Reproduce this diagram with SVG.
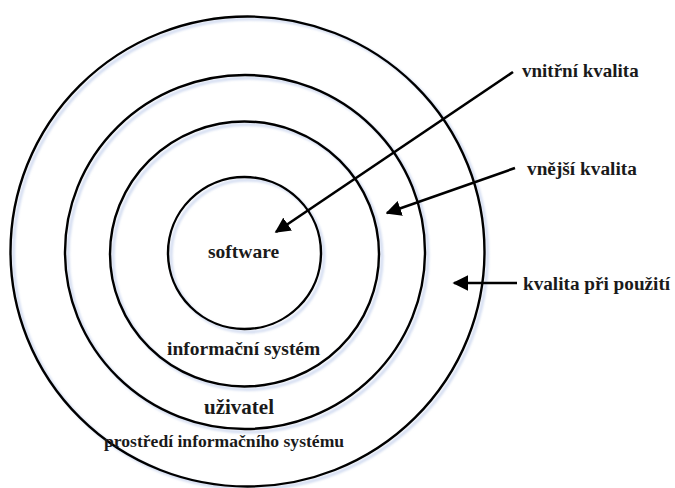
<svg xmlns="http://www.w3.org/2000/svg" width="675" height="488" viewBox="0 0 675 488">
  <style>
    .ring { fill: none; stroke: #000; stroke-width: 2.4; }
    .halo { fill: none; stroke: #c9d5ee; stroke-width: 3; opacity: 0.8; }
    .link { fill: none; stroke: #000; stroke-width: 2.6; }
    .lbl { font-family: "Liberation Serif", "Times New Roman", "DejaVu Serif", serif; font-weight: bold; font-size: 19.5px; fill: #1a1a1a; }
  </style>
  <defs>
    <marker id="head" viewBox="0 0 10 10" refX="9" refY="5" markerWidth="6" markerHeight="6" markerUnits="strokeWidth" orient="auto">
      <path d="M0,0 L10,5 L0,10 z" fill="#000"/>
    </marker>
    <filter id="soft" x="-5%" y="-5%" width="110%" height="110%">
      <feGaussianBlur stdDeviation="1"/>
    </filter>
  </defs>
  <rect width="675" height="488" fill="#fff"/>

  <!-- light shadow behind the rings -->
  <g filter="url(#soft)">
    <ellipse class="halo" cx="250.5" cy="254" rx="237" ry="235"/>
    <ellipse class="halo" cx="248" cy="255" rx="180" ry="177"/>
    <ellipse class="halo" cx="247.5" cy="257" rx="134.5" ry="132.5"/>
    <ellipse class="halo" cx="247.5" cy="256" rx="76.5" ry="76"/>
  </g>

  <g id="prostredi">
    <ellipse class="ring" cx="247.5" cy="251.5" rx="237" ry="235"/>
    <text class="lbl" x="104" y="447" style="font-size:17.6px">prostředí informačního systému</text>
  </g>
  <g id="uzivatel">
    <ellipse class="ring" cx="245" cy="252" rx="180" ry="177"/>
    <text class="lbl" x="204" y="414" style="font-size:21px">uživatel</text>
  </g>
  <g id="informacni-system">
    <ellipse class="ring" cx="244.5" cy="254" rx="134.5" ry="132.5"/>
    <text class="lbl" x="167" y="355">informační systém</text>
  </g>
  <g id="software">
    <ellipse class="ring" cx="244.5" cy="253" rx="76.5" ry="76"/>
    <text class="lbl" x="208" y="258">software</text>
  </g>

  <g id="vnitrni-kvalita">
    <text class="lbl" x="522" y="77" style="font-size:19px">vnitřní kvalita</text>
  </g>
  <g id="vnejsi-kvalita">
    <text class="lbl" x="527" y="175" style="font-size:19.3px">vnější kvalita</text>
  </g>
  <g id="kvalita-pri-pouziti">
    <text class="lbl" x="523" y="290" style="font-size:19.2px">kvalita při použití</text>
  </g>

  <g id="connectors">
    <line class="link" x1="513" y1="72" x2="276" y2="232" marker-end="url(#head)"/>
    <line class="link" x1="515" y1="168" x2="387" y2="213" marker-end="url(#head)"/>
    <line class="link" x1="517" y1="283" x2="454" y2="283" marker-end="url(#head)"/>
  </g>
</svg>
